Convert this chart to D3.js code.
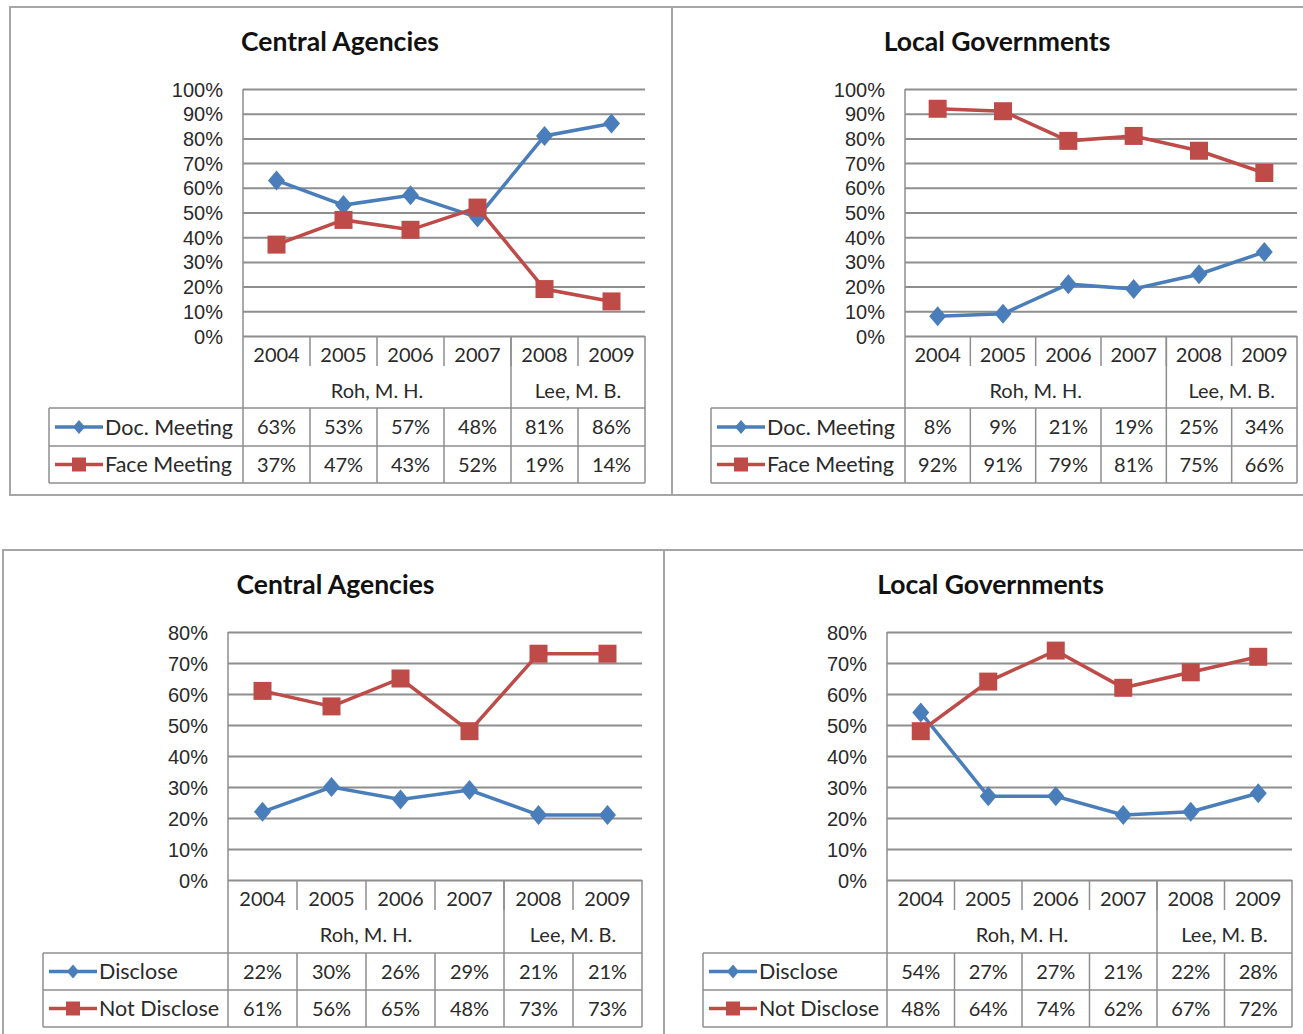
<!DOCTYPE html>
<html>
<head>
<meta charset="utf-8">
<script src="https://cdn.jsdelivr.net/npm/d3@7"></script>
<style>
  body { margin: 0; background: #fff; }
  svg { display: block; font-family: Lato, "Open Sans", sans-serif; }
  .tick text { fill: #2a2a2a; font-size: 20px; }
  .cell { fill: #2a2a2a; font-size: 20px; }
  .key { fill: #2a2a2a; font-size: 21.5px; }
  .title { fill: #111; font-size: 26.5px; font-weight: bold; }
</style>
</head>
<body>
<svg id="chart" width="1303" height="1034"></svg>
<script>
var years = ['2004', '2005', '2006', '2007', '2008', '2009'];
var groups = [
  { name: 'Roh, M. H.', span: 4 },
  { name: 'Lee, M. B.', span: 2 }
];

// meetings
var centralDoc = [63, 53, 57, 48, 81, 86];
var centralFace = [37, 47, 43, 52, 19, 14];
var localDoc = [8, 9, 21, 19, 25, 34];
var localFace = [92, 91, 79, 81, 75, 66];

// disclosure
var centralDisclose = [22, 30, 26, 29, 21, 21];
var centralNotDisclose = [61, 56, 65, 48, 73, 73];
var localDisclose = [54, 27, 27, 21, 22, 28];
var localNotDisclose = [48, 64, 74, 62, 67, 72];

var blue = '#4a7ebb';
var red = '#be4b48';
var gridColor = '#8e8e8e';

var svg = d3.select('#chart');

var panels = [
  { title: 'Central Agencies', box: [10, 7, 662, 488], x0: 243, x1: 645, top: 89, zero: 336, max: 100, legendX: 49,
    rows: [336, 373, 408, 446, 483], names: ['Doc. Meeting', 'Face Meeting'], series: [centralDoc, centralFace] },
  { title: 'Local Governments', box: [672, 7, 660, 488], x0: 905, x1: 1297, top: 89, zero: 336, max: 100, legendX: 711,
    rows: [336, 373, 408, 446, 483], names: ['Doc. Meeting', 'Face Meeting'], series: [localDoc, localFace] },
  { title: 'Central Agencies', box: [3, 550, 661, 500], x0: 228, x1: 642, top: 632, zero: 880, max: 80, legendX: 43,
    rows: [880, 917, 953, 990, 1027], names: ['Disclose', 'Not Disclose'], series: [centralDisclose, centralNotDisclose] },
  { title: 'Local Governments', box: [664, 550, 660, 500], x0: 887, x1: 1292, top: 632, zero: 880, max: 80, legendX: 703,
    rows: [880, 917, 953, 990, 1027], names: ['Disclose', 'Not Disclose'], series: [localDisclose, localNotDisclose] }
];

panels.forEach(drawPanel);

function drawPanel(p) {
  var g = svg.append('g');

  /* ===== FRAME ===== */
  g.append('rect')
    .attr('x', p.box[0]).attr('y', p.box[1])
    .attr('width', p.box[2]).attr('height', p.box[3])
    .attr('fill', 'none')
    .attr('stroke', '#a6a6a6')
    .attr('stroke-width', 2);

  g.append('text')
    .attr('class', 'title')
    .attr('x', (p.legendX + p.x1) / 2 - 7)
    .attr('y', p.top - 38)
    .attr('text-anchor', 'middle')
    .text(p.title);

  /* ===== SCALES ===== */
  var xScale = d3.scaleBand()
    .domain(years)
    .range([p.x0, p.x1]);

  var yScale = d3.scaleLinear()
    .domain([0, p.max])
    .range([p.zero, p.top]);

  var yAxis = d3.axisLeft(yScale)
    .ticks(p.max / 10)
    .tickSize(-(p.x1 - p.x0))
    .tickPadding(20)
    .tickFormat(function (d) { return d + '%'; });

  var axisG = g.append('g')
    .attr('transform', 'translate(' + p.x0 + ',0)')
    .call(yAxis);
  axisG.select('.domain').remove();
  axisG.selectAll('.tick line')
    .attr('stroke', gridColor)
    .attr('stroke-width', 2);
  axisG.selectAll('.tick text')
    .attr('dy', '0.35em');

  // vertical axis line
  g.append('line')
    .attr('x1', p.x0).attr('x2', p.x0)
    .attr('y1', p.top).attr('y2', p.rows[4])
    .attr('stroke', gridColor).attr('stroke-width', 1.5);

  /* ===== TABLE ===== */
  var r = p.rows;
  var bw = xScale.bandwidth();
  var tableLine = function (x1, y1, x2, y2) {
    g.append('line')
      .attr('x1', x1).attr('y1', y1).attr('x2', x2).attr('y2', y2)
      .attr('stroke', gridColor).attr('stroke-width', 1.5);
  };

  // right edge
  tableLine(p.x1, r[0], p.x1, r[4]);
  // year separators (short ticks)
  years.forEach(function (y, i) {
    if (i === 0) return;
    var x = xScale(y);
    tableLine(x, r[0], x, r[0] + 30);
  });
  // group separators
  var acc = 0;
  groups.forEach(function (grp, i) {
    var start = xScale(years[acc]);
    var end = start + grp.span * bw;
    if (i > 0) tableLine(start, r[0], start, r[2]);
    g.append('text')
      .attr('class', 'cell')
      .attr('x', (start + end) / 2)
      .attr('y', (r[1] + r[2]) / 2)
      .attr('dy', '0.35em')
      .attr('text-anchor', 'middle')
      .text(grp.name);
    acc += grp.span;
  });

  years.forEach(function (y) {
    g.append('text')
      .attr('class', 'cell')
      .attr('x', xScale(y) + bw / 2)
      .attr('y', (r[0] + r[1]) / 2)
      .attr('dy', '0.35em')
      .attr('text-anchor', 'middle')
      .text(y);
  });

  // data rows grid
  tableLine(p.legendX, r[2], p.x1, r[2]);
  tableLine(p.legendX, r[3], p.x1, r[3]);
  tableLine(p.legendX, r[4], p.x1, r[4]);
  tableLine(p.legendX, r[2], p.legendX, r[4]);
  years.forEach(function (y, i) {
    if (i === 0) return;
    tableLine(xScale(y), r[2], xScale(y), r[4]);
  });

  /* ===== LINES ===== */
  var colors = [blue, red];
  var line = d3.line()
    .x(function (d, i) { return xScale(years[i]) + bw / 2; })
    .y(function (d) { return yScale(d); });

  p.series.forEach(function (values, s) {
    g.append('path')
      .datum(values)
      .attr('fill', 'none')
      .attr('stroke', colors[s])
      .attr('stroke-width', 3.5)
      .attr('d', line);

    g.selectAll('.m' + s)
      .data(values)
      .enter()
      .append('path')
      .attr('transform', function (d, i) {
        return 'translate(' + (xScale(years[i]) + bw / 2) + ',' + yScale(d) + ')';
      })
      .attr('d', s === 0 ? 'M0,-10L8.5,0L0,10L-8.5,0Z' : 'M-9,-9H9V9H-9Z')
      .attr('fill', colors[s]);

    // row in table
    var rowMid = (r[2 + s] + r[3 + s]) / 2;
    values.forEach(function (v, i) {
      g.append('text')
        .attr('class', 'cell')
        .attr('x', xScale(years[i]) + bw / 2)
        .attr('y', rowMid)
        .attr('dy', '0.35em')
        .attr('text-anchor', 'middle')
        .text(v + '%');
    });

    // legend key
    var lx = p.legendX + 6;
    g.append('line')
      .attr('x1', lx).attr('x2', lx + 48)
      .attr('y1', rowMid).attr('y2', rowMid)
      .attr('stroke', colors[s]).attr('stroke-width', 3.5);
    g.append('path')
      .attr('transform', 'translate(' + (lx + 24) + ',' + rowMid + ')')
      .attr('d', s === 0 ? 'M0,-7L6,0L0,7L-6,0Z' : 'M-7,-7H7V7H-7Z')
      .attr('fill', colors[s]);
    g.append('text')
      .attr('class', 'key')
      .attr('x', lx + 50)
      .attr('y', rowMid)
      .attr('dy', '0.35em')
      .text(p.names[s]);
  });
}
</script>
</body>
</html>
